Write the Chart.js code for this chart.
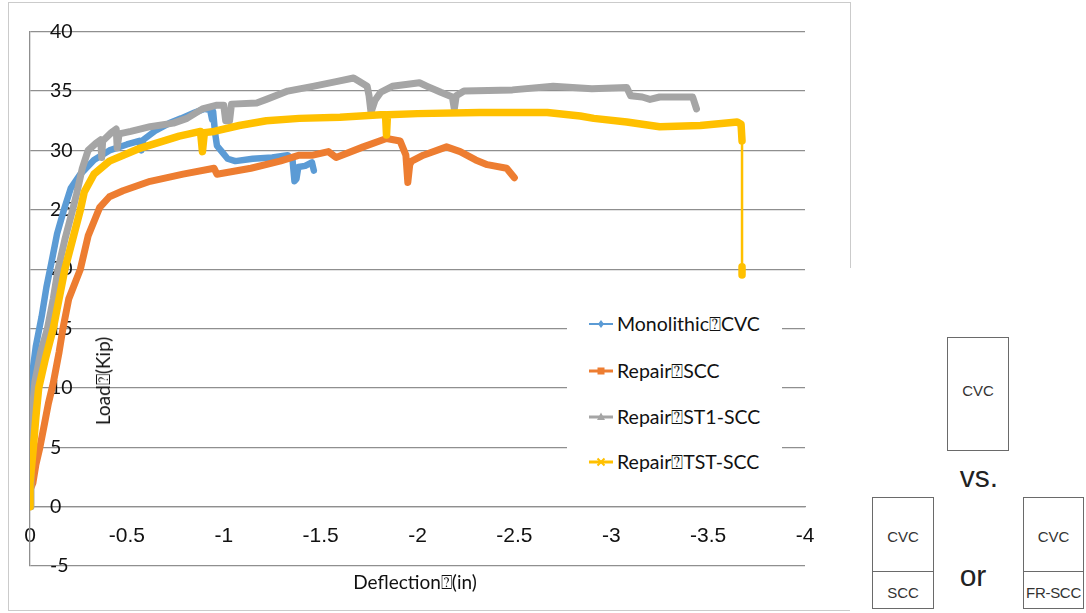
<!DOCTYPE html>
<html>
<head>
<meta charset="utf-8">
<script src="https://cdn.jsdelivr.net/npm/chart.js@4.4.0/dist/chart.umd.min.js"></script>
<style>
  body { margin: 0; background: #fff; }
  #wrap { position: relative; width: 1086px; height: 613px; overflow: hidden; }
  #frame { position: absolute; left: 8px; top: 2px; width: 843px; height: 609px; border: 1px solid #cbcbcb; box-sizing: border-box; }
  #loadChart { position: absolute; left: 0; top: 0; }
  #legend { position: absolute; left: 567px; top: 298px; width: 215px; height: 188px; background: #fff; }
  .item { position: absolute; left: 22px; height: 24px; font: 19.5px Lato, sans-serif; color: #111; white-space: nowrap; line-height: 24px; }
  .item svg { position: absolute; left: 0; top: 0; }
  .item span { position: absolute; left: 28px; top: 0; }
  .title { position: absolute; font: 19px Lato, sans-serif; color: #111; white-space: nowrap; transform: translate(-50%, -50%); }
  #yTitle { transform: translate(-50%, -50%) rotate(-90deg); }
  #sketch { position: absolute; left: 850px; top: 268px; width: 236px; height: 345px; background: #fff; font-family: "Liberation Sans", Arial, sans-serif; color: #333; }
  .box { position: absolute; border: 1px solid #6a6a6a; box-sizing: border-box; }
  .box .cell { position: absolute; left: 0; right: 0; text-align: center; font-size: 15px; }
  .big { position: absolute; font-size: 30px; color: #222; transform: translate(-50%, -50%); }
</style>
</head>
<body>
<div id="wrap">
  <div id="frame"></div>
  <canvas id="loadChart" width="1086" height="613"></canvas>
  <div id="legend"></div>
  <div class="title" id="xTitle" style="left:415px; top:582px;">Deflection⍰(in)</div>
  <div class="title" id="yTitle" style="left:103px; top:381px;">Load⍰(Kip)</div>
  <div id="sketch">
    <div class="box" style="left:97px; top:69px; width:62px; height:114px;">
      <div class="cell" style="top:44px;">CVC</div>
    </div>
    <div class="big" style="left:129px; top:209px;">vs.</div>
    <div class="box" style="left:22px; top:229px; width:62px; height:112px;">
      <div class="cell" style="top:30px;">CVC</div>
      <div style="position:absolute; left:0; right:0; top:73px; border-top:1px solid #6a6a6a;"></div>
      <div class="cell" style="top:86px;">SCC</div>
    </div>
    <div class="big" style="left:123px; top:308px;">or</div>
    <div class="box" style="left:173px; top:229px; width:61px; height:112px;">
      <div class="cell" style="top:30px;">CVC</div>
      <div style="position:absolute; left:0; right:0; top:73px; border-top:1px solid #6a6a6a;"></div>
      <div class="cell" style="top:86px; letter-spacing:-0.3px;">FR-SCC</div>
    </div>
  </div>
</div>
<script>
// tick values and labels
const xTicks = [0, -0.5, -1, -1.5, -2, -2.5, -3, -3.5, -4];
const xTickLabels = ['0', '-0.5', '-1', '-1.5', '-2', '-2.5', '-3', '-3.5', '-4'];
const yTicks = [-5, 0, 5, 10, 15, 20, 25, 30, 35, 40];
const yTickLabels = ['-5', '0', '5', '10', '15', '20', '25', '30', '35', '40'];

// series names / colours
const seriesNames = ['Monolithic⍰CVC', 'Repair⍰SCC', 'Repair⍰ST1-SCC', 'Repair⍰TST-SCC'];
const seriesColors = ['#5b9bd5', '#ed7d31', '#a5a5a5', '#ffc000'];

// Monolithic CVC
const monoDefl = [0, -0.01, -0.03, -0.06, -0.085, -0.11, -0.14, -0.175, -0.21, -0.26, -0.33, -0.41, -0.50, -0.565, -0.575, -0.585,
  -0.65, -0.72, -0.78, -0.85, -0.90, -0.93, -0.94, -0.945, -0.955, -0.965, -0.99, -1.02, -1.06, -1.15, -1.25, -1.33,
  -1.355, -1.365, -1.375, -1.385, -1.42, -1.455, -1.465];
const monoLoad = [9, 11, 13.5, 16, 18.5, 20.5, 23, 25, 26.8, 28, 29.2, 30, 30.5, 30.8, 30, 30.9,
  31.7, 32.3, 32.7, 33.2, 33.5, 33.4, 32.6, 33.3, 31.5, 30.4, 29.9, 29.3, 29.1, 29.3, 29.4, 29.6,
  29.2, 27.4, 27.6, 28.6, 28.7, 29.0, 28.3];

// Repair SCC
const sccDefl = [0, 0.01, -0.015, -0.03, -0.05, -0.075, -0.095, -0.12, -0.15, -0.17, -0.20, -0.26, -0.30, -0.335, -0.36, -0.41,
  -0.48, -0.62, -0.79, -0.95, -0.965, -1.14, -1.29, -1.39, -1.46, -1.54, -1.58, -1.72, -1.84, -1.91, -1.94, -1.95,
  -1.96, -1.97, -2.03, -2.15, -2.22, -2.30, -2.36, -2.46, -2.50];
const sccLoad = [0, 1, 2, 3.5, 4.9, 7, 8.7, 10.4, 13, 15, 17.5, 20, 22.8, 24.2, 25.2, 26.1,
  26.6, 27.4, 28, 28.5, 28.0, 28.5, 29.1, 29.6, 29.6, 29.9, 29.4, 30.3, 31.0, 30.8, 29.6, 27.3,
  28.8, 29.1, 29.6, 30.3, 29.9, 29.2, 28.8, 28.5, 27.7];

// Repair ST1-SCC
const st1Defl = [0, -0.005, -0.012, -0.025, -0.055, -0.09, -0.12, -0.145, -0.18, -0.22, -0.24, -0.27, -0.30, -0.34, -0.365, -0.37,
  -0.375, -0.42, -0.445, -0.45, -0.46, -0.52, -0.62, -0.74, -0.81, -0.89, -0.96, -1.0, -1.01, -1.03, -1.04, -1.17,
  -1.22, -1.33, -1.46, -1.58, -1.67, -1.70, -1.74, -1.75, -1.76, -1.78, -1.81, -1.87, -2.01, -2.05, -2.12, -2.18,
  -2.19, -2.20, -2.24, -2.49, -2.70, -2.90, -3.08, -3.10, -3.16, -3.20, -3.25, -3.42, -3.44];
const st1Load = [0, 4, 8, 10.5, 13, 15, 17.5, 20, 22.5, 25, 26.3, 28.5, 30, 30.6, 30.9, 29.4,
  30.8, 31.5, 31.8, 30.2, 31.4, 31.6, 32.0, 32.3, 32.7, 33.5, 33.8, 33.8, 32.5, 32.5, 33.9, 34.0,
  34.3, 35.0, 35.4, 35.8, 36.1, 35.8, 35.4, 34.6, 33.2, 34.2, 34.9, 35.4, 35.7, 35.4, 34.9, 34.5,
  33.5, 34.6, 35.0, 35.1, 35.4, 35.2, 35.3, 34.6, 34.5, 34.3, 34.5, 34.5, 33.5];

// Repair TST-SCC
const tstDefl = [0, 0, -0.017, -0.03, -0.045, -0.08, -0.12, -0.15, -0.18, -0.22, -0.26, -0.28, -0.33, -0.41, -0.57, -0.77,
  -0.88, -0.89, -0.90, -0.95, -1.08, -1.22, -1.39, -1.60, -1.81, -1.835, -1.84, -1.845, -2.0, -2.32, -2.67, -2.84,
  -2.91, -3.08, -3.25, -3.46, -3.65, -3.67, -3.675, -3.675, -3.675];
const tstLoad = [0, 2, 4.9, 7.5, 10, 12.5, 15, 17.5, 20, 22.5, 25, 26.5, 28, 29.1, 30.2, 31.2,
  31.6, 29.9, 31.5, 31.6, 32.1, 32.5, 32.7, 32.8, 33.0, 33.0, 31.3, 33.0, 33.1, 33.2, 33.2, 32.9,
  32.7, 32.4, 32.0, 32.1, 32.4, 32.2, 30.8, 20.2, 19.5];

const pts = (d, l) => d.map((x, i) => ({ x: x, y: l[i] }));
const allDefl = [monoDefl, sccDefl, st1Defl, tstDefl];
const allLoad = [monoLoad, sccLoad, st1Load, tstLoad];
const lineW = [6.5, 7, 7, 7.5];

const datasets = seriesNames.map((name, i) => ({
  label: name,
  data: pts(allDefl[i], allLoad[i]),
  borderColor: seriesColors[i],
  backgroundColor: seriesColors[i],
  borderWidth: lineW[i],
  borderJoinStyle: 'round',
  borderCapStyle: 'round',
  pointRadius: 0,
  order: 4 - i,
  segment: {
    // long jumps between far points are only the thin connecting line
    borderWidth: c => Math.abs(c.p0.parsed.y - c.p1.parsed.y) > 5 ? 2.5 : undefined
  }
}));

const ctx = document.getElementById('loadChart').getContext('2d');
const chart = new Chart(ctx, {
  type: 'line',
  data: { datasets: datasets },
  options: {
    responsive: false,
    animation: false,
    events: [],
    layout: { padding: { left: 30, top: 21, right: 281, bottom: 47 } },
    plugins: { legend: { display: false }, tooltip: { enabled: false } },
    scales: {
      x: {
        type: 'linear',
        position: { y: 0 },
        reverse: true,
        min: -4,
        max: 0,
        afterBuildTicks: s => { s.ticks = xTicks.map(v => ({ value: v })); },
        grid: { display: false, drawTicks: false },
        border: { display: true, color: '#8f8f8f', width: 1.3 },
        ticks: {
          padding: 17, color: '#111', font: { family: 'Liberation Sans', size: 21 },
          callback: (v, i) => xTickLabels[i]
        }
      },
      y: {
        type: 'linear',
        position: 'left',
        min: -5,
        max: 40,
        afterBuildTicks: s => { s.ticks = yTicks.map(v => ({ value: v })); },
        afterFit: s => { s.width = 0; },
        grid: { color: '#8f8f8f', lineWidth: 1.3, drawTicks: false },
        border: { display: true, color: '#8f8f8f', width: 1.3 },
        ticks: {
          mirror: true, padding: 20, color: '#111', font: { family: 'Lato', size: 19.5 },
          callback: (v, i) => yTickLabels[i]
        }
      }
    }
  }
});

// legend (white box over the plot, as in the source)
const markers = [
  '<path d="M12 8 L15 12 L12 16 L9 12 Z" fill="#5b9bd5"/>',
  '<rect x="8.5" y="8.5" width="7" height="7" fill="#ed7d31"/>',
  '<path d="M12 7.5 L16 15 L8 15 Z" fill="#a5a5a5"/>',
  '<path d="M8.5 8.5 L15.5 15.5 M15.5 8.5 L8.5 15.5" stroke="#ffc000" stroke-width="2"/>'
];
const legendTops = [14, 61, 107, 152];
const legend = document.getElementById('legend');
seriesNames.forEach((name, i) => {
  const d = document.createElement('div');
  d.className = 'item';
  d.style.top = legendTops[i] + 'px';
  const lw = i === 0 ? 2 : 3;
  d.innerHTML = '<svg width="24" height="24"><line x1="0" y1="12" x2="24" y2="12" stroke="' + seriesColors[i] +
    '" stroke-width="' + lw + '"/>' + markers[i] + '</svg><span>' + name + '</span>';
  legend.appendChild(d);
});
</script>
</body>
</html>
